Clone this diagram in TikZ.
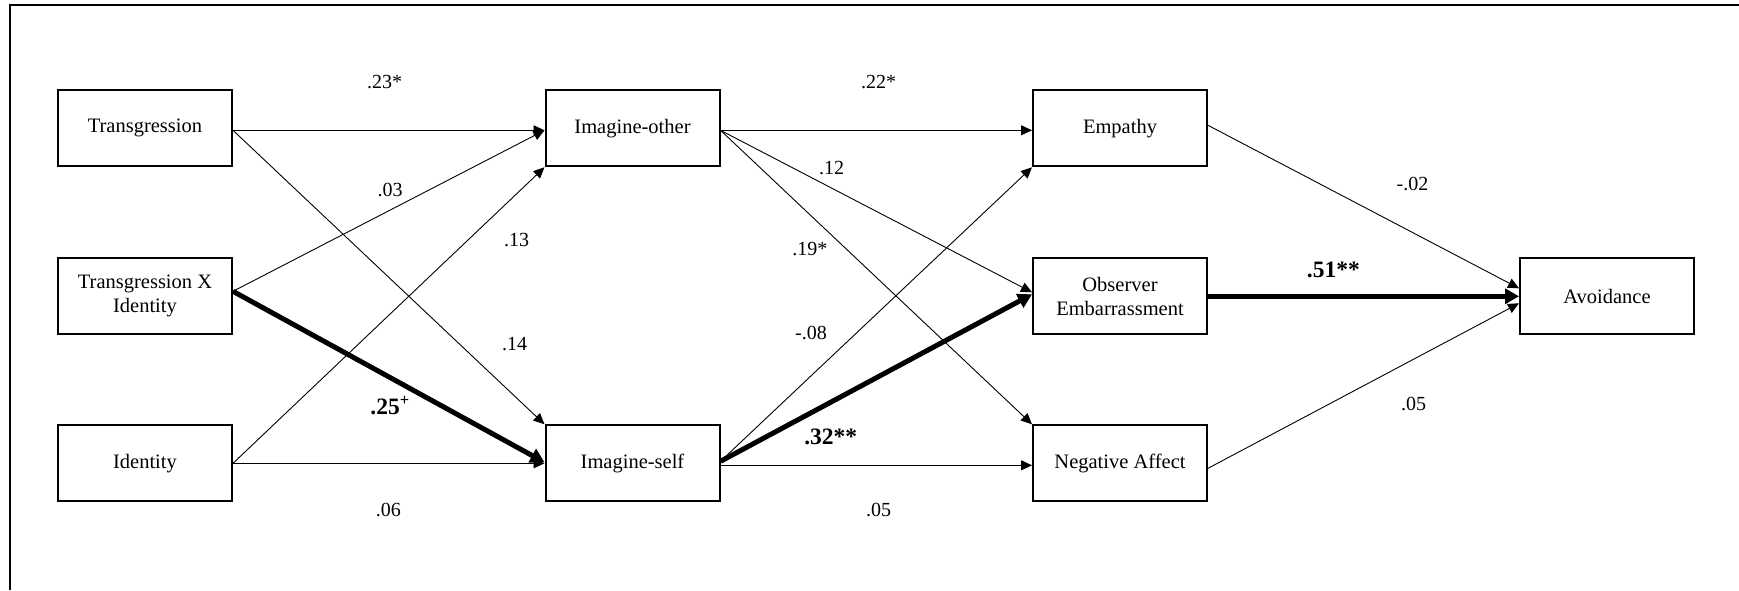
\documentclass[tikz,border=0pt]{standalone}
\usepackage{fontspec}
\setmainfont{Liberation Serif}
\usetikzlibrary{arrows.meta}
\begin{document}
\begin{tikzpicture}[x=1pt,y=-1pt,
  box/.style={draw,line width=2pt,minimum width=174pt,minimum height=76pt,inner sep=0pt,align=center,font=\fontsize{20.5}{24}\selectfont},
  thin/.style={line width=0.9pt,-{Triangle[length=11pt,width=10pt]}},
  thick/.style={line width=5pt,-{Triangle[length=14pt,width=15pt]}},
  lab/.style={font=\fontsize{20}{24}\selectfont,inner sep=0pt},
  blab/.style={font=\fontsize{23.5}{28}\selectfont\bfseries,inner sep=0pt}]
\useasboundingbox (0,0) rectangle (1739,590);
\draw[line width=2pt] (10,590) -- (10,5) -- (1739,5);
% nodes
\node[box] (tr)  at (145,128.3) {Transgression};
\node[box] (txi) at (145,296.3) {Transgression X\\Identity};
\node[box] (id)  at (145,463.3) {Identity};
\node[box] (io)  at (632.5,128.3) {Imagine-other};
\node[box] (is)  at (632.5,463.3) {Imagine-self};
\node[box] (em)  at (1120,128.3) {Empathy};
\node[box] (ob)  at (1120,296.3) {Observer\\Embarrassment};
\node[box] (na)  at (1120,463.3) {Negative Affect};
\node[box] (av)  at (1607,296.3) {Avoidance};
% connectors
\draw[thin] ([yshift=-2pt]tr.east) -- ([yshift=-2pt]io.west);
\draw[thin] ([yshift=-2pt]tr.east) -- (is.north west);
\draw[thin] ([yshift=5pt]txi.east) -- ([yshift=-2pt]io.west);
\draw[thin] (id.east) -- (io.south west);
\draw[thin] (id.east) -- (is.west);
\draw[thick] ([yshift=5pt]txi.east) -- ([yshift=1pt]is.west);
\draw[thin] ([yshift=-2pt]io.east) -- ([yshift=-2pt]em.west);
\draw[thin] ([yshift=-2pt]io.east) -- ([yshift=4pt]ob.west);
\draw[thin] ([yshift=-2pt]io.east) -- (na.north west);
\draw[thin] ([yshift=2pt]is.east) -- (em.south west);
\draw[thin] ([yshift=-2pt]is.east) -- ([yshift=-2pt]na.west);
\draw[thick] ([yshift=2pt]is.east) -- ([yshift=2pt]ob.west);
\draw[thin] ([yshift=3pt]em.east) -- ([yshift=8pt]av.west);
\draw[thick] (ob.east) -- (av.west);
\draw[thin] ([yshift=-5pt]na.east) -- ([yshift=-7pt]av.west);
% labels
\node[lab] (l1) at (384.6,82.1) {.23*};
\node[lab] (l2) at (390,190.4) {.03};
\node[lab] (l3) at (516.6,240.1) {.13};
\node[lab] (l4) at (514.7,343.7) {.14};
\node[blab] (l5) at (390,405.8) {.25\textsuperscript{+}};
\node[lab] (l6) at (388.4,509.6) {.06};
\node[lab] (l7) at (878.7,82.1) {.22*};
\node[lab] (l8) at (831.6,168.4) {.12};
\node[lab] (l9) at (809.8,248.8) {.19*};
\node[lab] (l10) at (811,332.9) {-.08};
\node[blab] (l11) at (830.8,437.3) {.32**};
\node[lab] (l12) at (878.7,509.6) {.05};
\node[lab] (l13) at (1412.5,183.6) {-.02};
\node[blab] (l14) at (1333.3,270.3) {.51**};
\node[lab] (l15) at (1413.6,404.1) {.05};
\end{tikzpicture}
\end{document}
